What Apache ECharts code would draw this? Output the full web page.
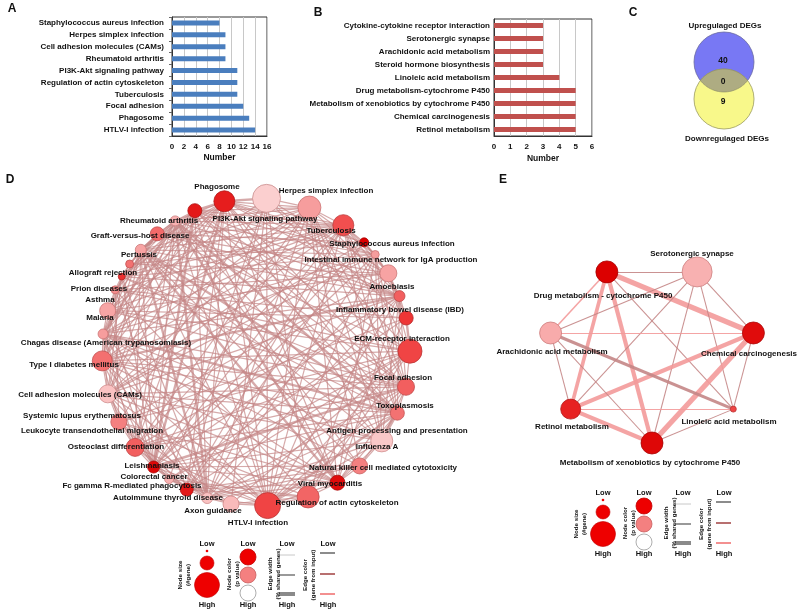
<!DOCTYPE html>
<html><head><meta charset="utf-8">
<script src="https://cdn.jsdelivr.net/npm/echarts@6/dist/echarts.min.js"></script>
<style>html,body{margin:0;padding:0;background:#fff}#c{width:800px;height:610px}</style>
</head><body><div id="c"></div>
<script>
// ---------- DATA ----------
const aCategories = ['HTLV-I infection','Phagosome','Focal adhesion','Tuberculosis','Regulation of actin cytoskeleton','PI3K-Akt signaling pathway','Rheumatoid arthritis','Cell adhesion molecules (CAMs)','Herpes simplex infection','Staphylococcus aureus infection'];
const aValues = [14,13,12,11,11,11,9,9,9,8];
const aAxis = [0,16,2];
const bCategories = ['Retinol metabolism','Chemical carcinogenesis','Metabolism of xenobiotics by cytochrome P450','Drug metabolism-cytochrome P450','Linoleic acid metabolism','Steroid hormone biosynthesis','Arachidonic acid metabolism','Serotonergic synapse','Cytokine-cytokine receptor interaction'];
const bValues = [5,5,5,5,4,3,3,3,3];
const bAxis = [0,6,1];
const axisName = 'Number';
const vennLabels = ['Upregulaged DEGs','Downregulaged DEGs'];
const vennCounts = [40,0,9];

const dNodes = ['Focal adhesion','Toxoplasmosis','Antigen processing and presentation','Influenza A','Natural killer cell mediated cytotoxicity','Viral myocarditis','Regulation of actin cytoskeleton','HTLV-I infection','Axon guidance','Autoimmune thyroid disease','Fc gamma R-mediated phagocytosis','Colorectal cancer','Leishmaniasis','Osteoclast differentiation','Leukocyte transendothelial migration','Systemic lupus erythematosus','Cell adhesion molecules (CAMs)','Type I diabetes mellitus','Chagas disease (American trypanosomiasis)','Malaria','Asthma','Prion diseases','Allograft rejection','Pertussis','Graft-versus-host disease','Rheumatoid arthritis','Phagosome','PI3K-Akt signaling pathway','Herpes simplex infection','Tuberculosis','Staphylococcus aureus infection','Intestinal immune network for IgA production','Amoebiasis','Inflammatory bowel disease (IBD)','ECM-receptor interaction'];
// node size (#gene) and node colour (significance level 0..1)
const dNodeGenes = [12,8.5,7,11,8,7.5,11,13,8,5.5,6.5,4.5,6,9,8,9,10,5,8,4,3.5,4,5.5,7,5,7,10.5,14,11.5,10.5,4.5,4,8.5,5.5,7];
const dNodeSig = [0.72,0.62,0.55,0.25,0.5,0.95,0.6,0.72,0.3,0.27,0.9,0.33,0.97,0.62,0.5,0.27,0.56,0.4,0.37,0.45,0.8,0.55,0.38,0.58,0.33,0.9,0.88,0.22,0.4,0.68,1.0,0.4,0.38,0.62,0.78];
const dAdj = [
 [1,6,7,8,10,11,13,14,16,18,19,23,25,27,29,32,34],
 [2,3,5,7,9,12,13,15,16,17,18,20,22,24,25,26,28,29,31,33],
 [3,4,5,7,9,12,13,15,16,17,20,22,24,25,26,28,29,31,33],
 [4,5,7,9,12,15,16,17,22,24,26,28,29,31,33],
 [5,9,10,12,17,22,24,28],
 [6,7,9,10,12,14,15,16,17,22,24,25,26,28,31,33],
 [7,8,10,11,14,19,27,32,34],
 [8,9,12,13,15,16,17,22,24,25,26,27,28,29,31,33],
 [9,11,14,27],
 [10,12,13,15,16,17,20,22,24,25,26,28,29,31,33],
 [11,12,13,14,19,26,27,29,30,32],
 [12,14,27,34],
 [13,15,16,17,18,20,22,24,25,26,28,29,30,31,33],
 [14,15,17,22,24,25,26,28,29,33],
 [15,16,19,27,32,34],
 [16,17,20,22,24,25,26,28,29,30,31,33],
 [17,19,20,22,24,25,26,28,29,31,33],
 [18,20,22,24,25,26,28,29,31,33],
 [19,23,26,27,29,32,34],
 [20,23,25,29,32,34],
 [21,22,24,25,26,28,29,31,33],
 [22,23,30,32],
 [23,24,25,26,28,29,31,33],
 [24,29,30,32,33],
 [25,26,28,29,31,33],
 [26,28,29,31,33],
 [27,28,29,30,31,32,33],
 [28,32,34],
 [29,31,33],
 [30,31,32,33],
 [31,32],
 [32,33],
 [33,34],
 [34],
 []
];
const dStrong = [[2,22],[2,24],[2,17],[9,22],[9,24],[17,24],[22,24],[5,22],[5,24],[12,25],[16,33],[1,12],[12,26],[2,7],[2,3],[25,26],[26,27],[0,34]];

const eNodes = ['Metabolism of xenobiotics by cytochrome P450','Linoleic acid metabolism','Chemical carcinogenesis','Serotonergic synapse','Drug metabolism - cytochrome P450','Arachidonic acid metabolism','Retinol metabolism'];
const eNodeGenes = [11,3,11,15,11,11,10];
const eNodeSig = [0.97,0.72,0.95,0.33,1.0,0.35,0.86];
// [source, target, shared-gene level, colour level 0 grey / 1 brown / 2 pink]
const eLinks = [[4,3,1,1],[4,2,5,2],[4,1,1,1],[4,0,4,2],[4,6,3.5,2],[4,5,1.5,2],[3,2,1,1],[3,1,1,1],[3,0,1,1],[3,6,1,1],[3,5,1,1],[2,1,1,1],[2,0,5,2],[2,6,4,2],[2,5,1,2],[1,0,1,1],[1,6,1,2],[1,5,3,1],[0,6,4,2],[0,5,1,1],[6,5,1,1]];

// ---------- STYLE / LAYOUT ----------
const FONT = '"Liberation Sans", Arial, sans-serif';
const sigStops = ['#ffffff','#fac8c8','#f48080','#f03c3c','#dc0000'];
const sigBorder = ['#999999','#d09090','#c86060','#b83030','#a80000'];
const edgeColors = ['#9a9a9a','#c48686','#f39a9a'];
// label anchor points (text placement)
const dLabelAt = [[403,378],[405,406],[397,431],[377,447],[383,468],[330,484],[337,503],[258,523],[213,511],[168,498],[132,486],[154,477],[152,466],[116,447],[92,431],[82,416],[80,395],[74,365],[106,343],[100,318],[100,300],[99,289],[103,273],[139,255],[140,236],[159,221],[217,187],[265,219],[326,191],[331,231],[392,244],[391,260],[392,287],[400,310],[402,339]];
const eLabelAt = [[650,463],[729,422],[749,354],[692,254],[603,296],[552,352],[572,427]];

const lbl = {fontFamily: FONT, fontWeight: 'bold', fontSize: 8, color: '#111'};
function sigColor(t){ return echarts.color.lerp(t, sigStops); }
function sigStroke(t){ return echarts.color.lerp(t, sigBorder); }

// D: size-aware circular layout (gap between neighbours grows with their sizes)
const dCenter = [256, 352], dR = 154, dStartDeg = -0.3;
const dSize = dNodeGenes.map(g=>g*2);
const nD = dSize.length;
const gapsRaw = dSize.map((s,i)=>1.0 + 0.6*(s + dSize[(i+1)%nD])/2);
const gapSum = gapsRaw.reduce((a,b)=>a+b,0);
const dPos = [];
let ang = dStartDeg;
for (let i=0;i<nD;i++){
  const r = ang*Math.PI/180;
  dPos.push([dCenter[0]+dR*Math.cos(r), dCenter[1]+dR*Math.sin(r)]);
  ang += gapsRaw[i]*360/gapSum;
}
function boxOf(pos){
  const xs = pos.map(p=>p[0]), ys = pos.map(p=>p[1]);
  const l = Math.min(...xs), t = Math.min(...ys);
  return {left:l, top:t, width:Math.max(...xs)-l, height:Math.max(...ys)-t};
}
const dBox = boxOf(dPos);
const dData = dNodes.map((n,i)=>({
  name: n, x: dPos[i][0], y: dPos[i][1], symbolSize: dSize[i],
  itemStyle: {color: sigColor(dNodeSig[i]), borderColor: sigStroke(dNodeSig[i]), borderWidth: 0.8},
  label: Object.assign({show: true, position: 'inside', offset: [dLabelAt[i][0]-dPos[i][0], dLabelAt[i][1]-dPos[i][1]]}, lbl)
}));
const strongSet = new Set(dStrong.map(p=>p[0]+'-'+p[1]));
const dLinks = [];
dAdj.forEach((arr,i)=>arr.forEach(j=>{
  const strong = strongSet.has(i+'-'+j);
  dLinks.push({source: i, target: j, lineStyle: {width: strong ? 2.4 : 1.2}});
}));

// E: regular heptagon on an ellipse
const eCenter = [652, 353], eRad = [104, 90];
const ePos = eNodes.map((n,k)=>{
  const a = Math.PI/2 - k*2*Math.PI/eNodes.length;
  return [eCenter[0]+eRad[0]*Math.cos(a), eCenter[1]+eRad[1]*Math.sin(a)];
});
const eBox = boxOf(ePos);
const eData = eNodes.map((n,i)=>({
  name: n, x: ePos[i][0], y: ePos[i][1], symbolSize: eNodeGenes[i]*2,
  itemStyle: {color: sigColor(eNodeSig[i]), borderColor: sigStroke(eNodeSig[i]), borderWidth: 0.8},
  label: Object.assign({show: true, position: 'inside', offset: [eLabelAt[i][0]-ePos[i][0], eLabelAt[i][1]-ePos[i][1]]}, lbl)
}));
const eLinkData = eLinks.map(l=>({source: l[0], target: l[1], lineStyle: {width: l[2]*1.05, color: edgeColors[l[3]], opacity: 0.9}}));

// Venn
const vU = [724, 62], vD = [724, 99], vR = 30;
function lensPoints(){
  const d = vD[1]-vU[1], h = Math.sqrt(vR*vR - (d/2)*(d/2));
  const ym = (vU[1]+vD[1])/2;
  const pts = [];
  const aL = Math.atan2(ym - vU[1], -h), aR = Math.atan2(ym - vU[1], h);
  for (let k=0;k<=30;k++){ const a = aL + (aR-aL)*k/30; pts.push([vU[0]+vR*Math.cos(a), vU[1]+vR*Math.sin(a)]); }
  const bR = Math.atan2(ym - vD[1], h), bL = Math.atan2(ym - vD[1], -h);
  const bL2 = bL > 0 ? bL - 2*Math.PI : bL;
  for (let k=0;k<=30;k++){ const a = bR + (bL2-bR)*k/30; pts.push([vD[0]+vR*Math.cos(a), vD[1]+vR*Math.sin(a)]); }
  return pts;
}
function T(text, x, y, size, rot, lh){
  return {type:'text', x:x, y:y, rotation: rot||0, silent:true,
    style:{text:text, fontSize:size||8, fontWeight:'bold', fontFamily:FONT, fill:'#111', align:'center', verticalAlign:'middle', lineHeight: lh||9}};
}
function legend(x, y){
  const els = [];
  const red = '#ee0000';
  const LH = (cx)=>[T('Low',cx,y,7.5), T('High',cx,y+61,7.5)];
  els.push(...LH(x));
  els.push({type:'circle', shape:{cx:x,cy:y+7,r:1.3}, style:{fill:red}});
  els.push({type:'circle', shape:{cx:x,cy:y+19,r:7}, style:{fill:red, stroke:'#c00000', lineWidth:0.6}});
  els.push({type:'circle', shape:{cx:x,cy:y+41,r:12.5}, style:{fill:red, stroke:'#c00000', lineWidth:0.6}});
  els.push(T('Node size\n(#gene)', x-23, y+31, 6.2, Math.PI/2, 8));
  const c2 = x+41;
  els.push(...LH(c2));
  [[13,'#ee0000','#c00000'],[31,'#f48080','#c86060'],[49,'#ffffff','#999999']].forEach(s=>{
    els.push({type:'circle', shape:{cx:c2,cy:y+s[0],r:8}, style:{fill:s[1], stroke:s[2], lineWidth:0.8}});
  });
  els.push(T('Node color\n(p value)', x+26, y+30, 6.2, Math.PI/2, 8));
  const c3 = x+80;
  els.push(...LH(c3));
  [[11,1,'#c8c8c8'],[31,2,'#999999'],[50,4,'#8a8a8a']].forEach(s=>{
    els.push({type:'line', shape:{x1:x+72,y1:y+s[0],x2:x+88,y2:y+s[0]}, style:{stroke:s[2], lineWidth:s[1]}});
  });
  els.push(T('Edge width\n(% shared genes)', x+67, y+30, 6.2, Math.PI/2, 8));
  const c4 = x+121;
  els.push(...LH(c4));
  [[9,'#8c8c8c'],[30,'#b87070'],[50,'#f39090']].forEach(s=>{
    els.push({type:'line', shape:{x1:x+113,y1:y+s[0],x2:x+128,y2:y+s[0]}, style:{stroke:s[1], lineWidth:2}});
  });
  els.push(T('Edge color\n(gene from input)', x+102, y+31, 6.2, Math.PI/2, 8));
  return els;
}

const graphics = [
  T('A', 12, 9, 12), T('B', 318, 13, 12), T('C', 633, 13, 12), T('D', 10, 180, 12), T('E', 503, 180, 12),
  {type:'circle', shape:{cx:vU[0],cy:vU[1],r:vR}, style:{fill:'#7878f4', stroke:'#6a6aa0', lineWidth:0.8}},
  {type:'circle', shape:{cx:vD[0],cy:vD[1],r:vR}, style:{fill:'#f8f88a', stroke:'#9a9a60', lineWidth:0.8}},
  {type:'polygon', shape:{points: lensPoints()}, style:{fill:'#aeac82', stroke:'#8a8a66', lineWidth:0.6}},
  T(vennLabels[0], 725, 26, 8), T(vennLabels[1], 727, 139, 8),
  T(String(vennCounts[0]), 723, 61, 8.5), T(String(vennCounts[1]), 723, 82, 8.5), T(String(vennCounts[2]), 723, 102, 8.5)
].concat(legend(207, 544), legend(603, 493));

const axisTxt = {fontFamily: FONT, fontWeight: 'bold', fontSize: 8, color: '#111'};
const option = {
  animation: false,
  grid: [
    {left:172, top:17, width:95, height:119, show:true, borderColor:'#333', borderWidth:1},
    {left:494, top:19, width:98, height:117, show:true, borderColor:'#333', borderWidth:1}
  ],
  xAxis: [
    {gridIndex:0, type:'value', min:aAxis[0], max:aAxis[1], interval:aAxis[2], axisLine:{show:true, lineStyle:{color:'#333'}}, axisTick:{show:false},
     splitLine:{lineStyle:{color:'#c8c8c8'}}, axisLabel:Object.assign({margin:7}, axisTxt),
     name:axisName, nameLocation:'middle', nameGap:17, nameTextStyle:Object.assign({}, axisTxt, {fontSize:8.5})},
    {gridIndex:1, type:'value', min:bAxis[0], max:bAxis[1], interval:bAxis[2], axisLine:{show:true, lineStyle:{color:'#333'}}, axisTick:{show:false},
     splitLine:{lineStyle:{color:'#c8c8c8'}}, axisLabel:Object.assign({margin:7}, axisTxt),
     name:axisName, nameLocation:'middle', nameGap:18, nameTextStyle:Object.assign({}, axisTxt, {fontSize:8.5})}
  ],
  yAxis: [
    {gridIndex:0, type:'category', data:aCategories, axisLine:{lineStyle:{color:'#333'}}, axisTick:{show:true, length:3, lineStyle:{color:'#666'}},
     axisLabel:Object.assign({}, axisTxt, {margin:8})},
    {gridIndex:1, type:'category', data:bCategories, axisLine:{lineStyle:{color:'#333'}}, axisTick:{show:false},
     axisLabel:Object.assign({}, axisTxt, {margin:4})}
  ],
  graphic: graphics,
  series: [
    {type:'bar', xAxisIndex:0, yAxisIndex:0, data:aValues, barWidth:5, itemStyle:{color:'#4a7ebe'}, silent:true},
    {type:'bar', xAxisIndex:1, yAxisIndex:1, data:bValues, barWidth:5, itemStyle:{color:'#c0504d'}, silent:true},
    {type:'graph', layout:'none', left:dBox.left, top:dBox.top, width:dBox.width, height:dBox.height, silent:true,
     data:dData, links:dLinks, lineStyle:{color:'#c48686', opacity:0.7, curveness:0}, z:3},
    {type:'graph', layout:'none', left:eBox.left, top:eBox.top, width:eBox.width, height:eBox.height, silent:true,
     data:eData, links:eLinkData, lineStyle:{curveness:0}, z:3}
  ]
};
const chart = echarts.init(document.getElementById('c'), null, {renderer:'canvas'});
chart.setOption(option);
</script></body></html>
